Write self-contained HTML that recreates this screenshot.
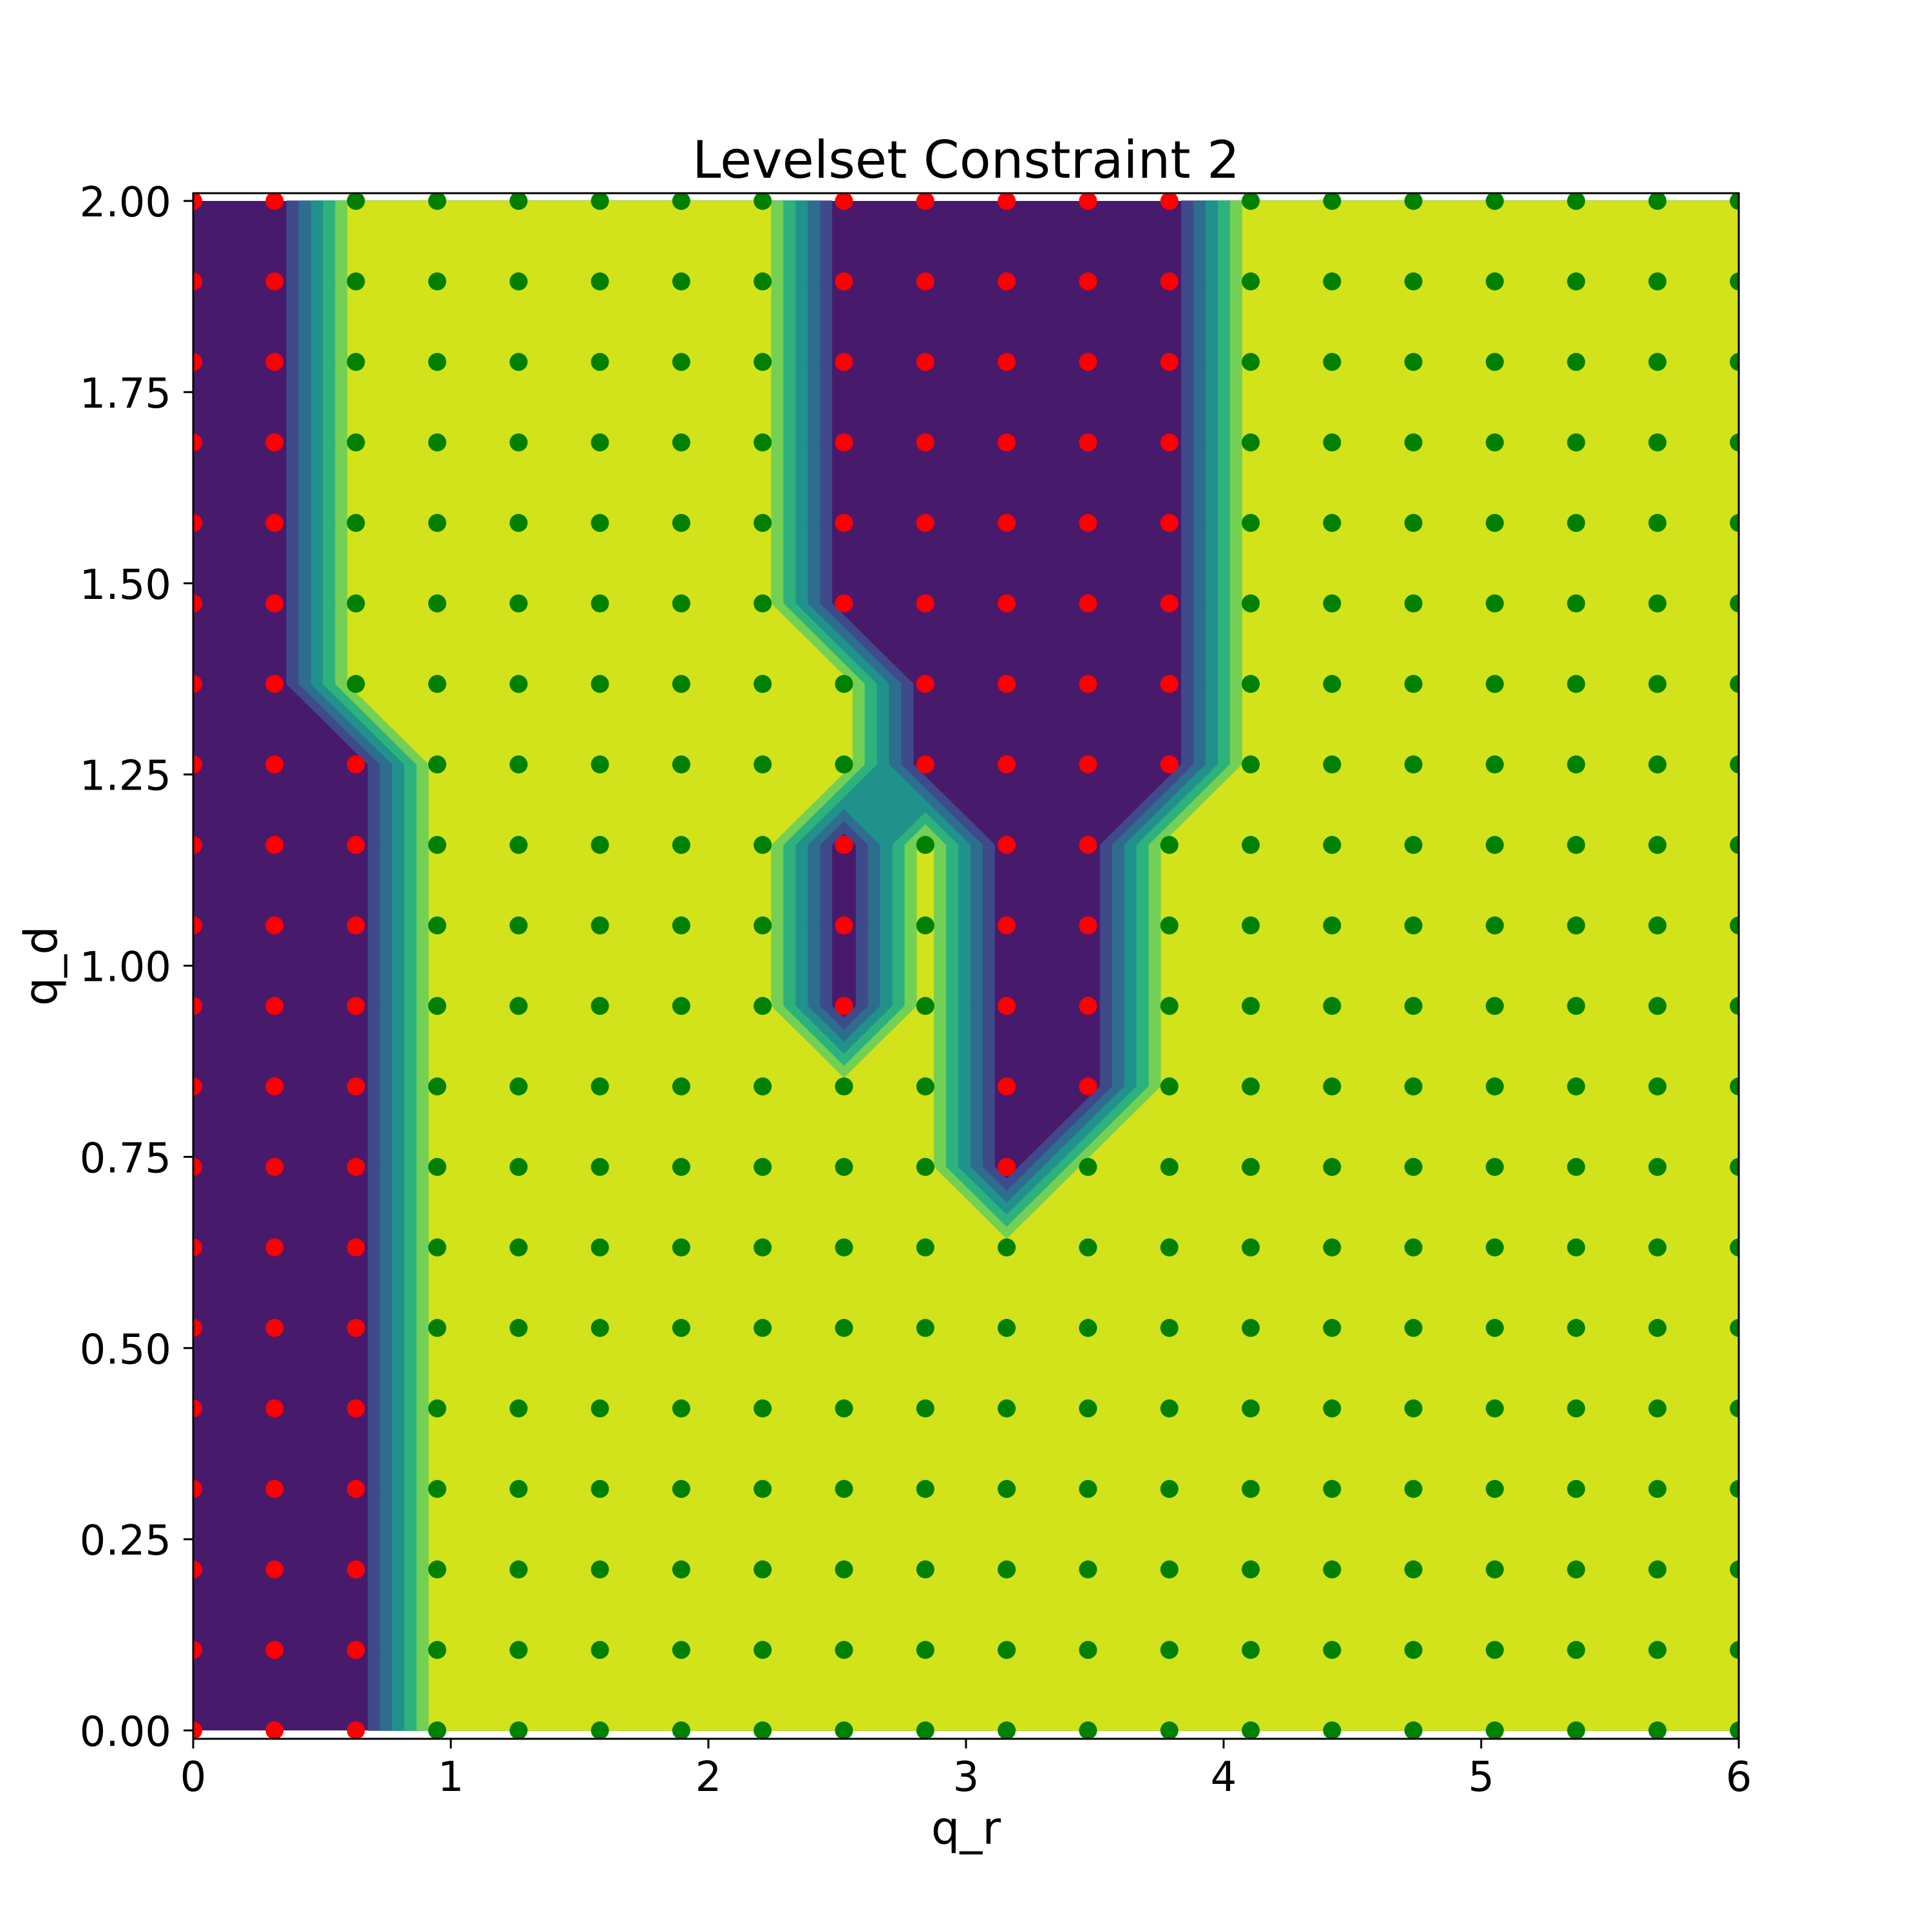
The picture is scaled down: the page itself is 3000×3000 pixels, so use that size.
<!DOCTYPE html>
<html>
<head>
<meta charset="utf-8">
<style>
  html, body { margin:0; padding:0; background:#fff; }
  body { width:3000px; height:3000px; overflow:hidden; }
  svg { display:block; font-family:"DejaVu Sans","Liberation Sans",sans-serif; }
</style>
</head>
<body>
<svg id="chart" width="3000" height="3000" viewBox="0 0 3000 3000" xmlns="http://www.w3.org/2000/svg">
  <rect x="0" y="0" width="3000" height="3000" fill="#ffffff"/>
  <defs>
    <clipPath id="axclip"><rect x="300" y="300" width="2400" height="2400"/></clipPath>
  </defs>
  <text x="1500" y="276" font-size="80" text-anchor="middle" fill="#000">Levelset Constraint 2</text>
  <g id="contours" clip-path="url(#axclip)"></g>
  <g id="points" clip-path="url(#axclip)"></g>
  <g id="axes"></g>
  <text x="1500" y="2863" font-size="70" text-anchor="middle" fill="#000">q_r</text>
  <text x="88" y="1500" font-size="70" text-anchor="middle" fill="#000" transform="rotate(-90 88 1500)">q_d</text>
</svg>
<script>
// ---- data ----
const qrValues = Array.from({length:20}, (_, i) => i * 6 / 19);
const qdValues = Array.from({length:20}, (_, j) => j * 2 / 19);
// feasibility per row (j = 0 bottom ... 19 top), per column i = 0..19; 1 = feasible (green), 0 = infeasible (red)
const feasRows = [
  [0,0,0,1,1,1,1,1,1,1,1,1,1,1,1,1,1,1,1,1],
  [0,0,0,1,1,1,1,1,1,1,1,1,1,1,1,1,1,1,1,1],
  [0,0,0,1,1,1,1,1,1,1,1,1,1,1,1,1,1,1,1,1],
  [0,0,0,1,1,1,1,1,1,1,1,1,1,1,1,1,1,1,1,1],
  [0,0,0,1,1,1,1,1,1,1,1,1,1,1,1,1,1,1,1,1],
  [0,0,0,1,1,1,1,1,1,1,1,1,1,1,1,1,1,1,1,1],
  [0,0,0,1,1,1,1,1,1,1,1,1,1,1,1,1,1,1,1,1],
  [0,0,0,1,1,1,1,1,1,1,0,1,1,1,1,1,1,1,1,1],
  [0,0,0,1,1,1,1,1,1,1,0,0,1,1,1,1,1,1,1,1],
  [0,0,0,1,1,1,1,1,0,1,0,0,1,1,1,1,1,1,1,1],
  [0,0,0,1,1,1,1,1,0,1,0,0,1,1,1,1,1,1,1,1],
  [0,0,0,1,1,1,1,1,0,1,0,0,1,1,1,1,1,1,1,1],
  [0,0,0,1,1,1,1,1,1,0,0,0,0,1,1,1,1,1,1,1],
  [0,0,1,1,1,1,1,1,1,0,0,0,0,1,1,1,1,1,1,1],
  [0,0,1,1,1,1,1,1,0,0,0,0,0,1,1,1,1,1,1,1],
  [0,0,1,1,1,1,1,1,0,0,0,0,0,1,1,1,1,1,1,1],
  [0,0,1,1,1,1,1,1,0,0,0,0,0,1,1,1,1,1,1,1],
  [0,0,1,1,1,1,1,1,0,0,0,0,0,1,1,1,1,1,1,1],
  [0,0,1,1,1,1,1,1,0,0,0,0,0,1,1,1,1,1,1,1],
  [0,0,1,1,1,1,1,1,0,0,0,0,0,1,1,1,1,1,1,1]
];
const levels = [0.15, 0.30, 0.45, 0.60, 0.75, 0.90];
const bandColors = ["#481a6c","#3e4a89","#2e6d8e","#21918c","#2db27d","#73d055","#d2e21b"];
const xTicks = [0,1,2,3,4,5,6];
const xTickLabels = ["0","1","2","3","4","5","6"];
const yTicks = [0,0.25,0.5,0.75,1.0,1.25,1.5,1.75,2.0];
const yTickLabels = ["0.00","0.25","0.50","0.75","1.00","1.25","1.50","1.75","2.00"];

// ---- axes ----
const NS = "http://www.w3.org/2000/svg";
const X0 = 300, X1 = 2700, AX_TOP = 300, AX_BOT = 2700;
const YP0 = 2687, YP2 = 312;
function sx(v){ return X0 + (v - 0) / 6 * (X1 - X0); }
function sy(v){ return YP0 + (v - 0) / 2 * (YP2 - YP0); }
function mk(tag, parent){ const e = document.createElementNS(NS, tag); parent.appendChild(e); return e; }

// ---- contour fill (marching squares per level) ----
const cg = document.getElementById('contours');
const base = mk('rect', cg);


base.setAttribute('x', sx(0)); base.setAttribute('y', sy(2));
base.setAttribute('width', sx(6) - sx(0)); base.setAttribute('height', sy(0) - sy(2));
base.setAttribute('fill', bandColors[0]);

function val(i, j){ return feasRows[j][i]; }
for (let k = 0; k < levels.length; k++) {
  const L = levels[k];
  let d = "";
  for (let j = 0; j < 19; j++) {
    for (let i = 0; i < 19; i++) {
      const c = [[i,j],[i+1,j],[i+1,j+1],[i,j+1]];
      const v = c.map(p => val(p[0], p[1]));
      const hi = v.map(a => a >= L);
      const nHi = hi.filter(Boolean).length;
      if (nHi === 0) continue;
      const pt = (p) => [sx(qrValues[p[0]]), sy(qdValues[p[1]])];
      const cross = (a, b) => {
        const t = (L - v[a]) / (v[b] - v[a]);
        const pa = pt(c[a]), pb = pt(c[b]);
        return [pa[0] + t*(pb[0]-pa[0]), pa[1] + t*(pb[1]-pa[1])];
      };
      const center = (v[0]+v[1]+v[2]+v[3]) / 4;
      const saddle = nHi === 2 && hi[0] === hi[2] && hi[1] === hi[3];
      const polys = [];
      if (saddle && L > center) {
        for (let a = 0; a < 4; a++) {
          if (!hi[a]) continue;
          const prev = (a + 3) % 4, next = (a + 1) % 4;
          polys.push([cross(prev, a), pt(c[a]), cross(a, next)]);
        }
      } else {
        const poly = [];
        for (let a = 0; a < 4; a++) {
          const b = (a + 1) % 4;
          if (hi[a]) poly.push(pt(c[a]));
          if (hi[a] !== hi[b]) poly.push(cross(a, b));
        }
        polys.push(poly);
      }
      for (const poly of polys) {
        d += "M" + poly.map(p => p[0].toFixed(2) + "," + p[1].toFixed(2)).join("L") + "Z";
      }
    }
  }
  const path = mk('path', cg);
  
  
  path.setAttribute('d', d);
  path.setAttribute('fill', bandColors[k + 1]);
  path.setAttribute('stroke', bandColors[k + 1]);
  path.setAttribute('stroke-width', '1.2');
  path.setAttribute('stroke-linejoin', 'round');
}

// ---- sample points ----
const pg = document.getElementById('points');
for (let j = 0; j < 20; j++) {
  for (let i = 0; i < 20; i++) {
    const c = mk('circle', pg);
    
    
    c.setAttribute('cx', sx(qrValues[i]).toFixed(2));
    c.setAttribute('cy', sy(qdValues[j]).toFixed(2));
    c.setAttribute('r', '14');
    c.setAttribute('fill', val(i, j) ? '#008000' : '#ff0000');
  }
}

// ---- axes: spines, ticks, labels ----
const ag = document.getElementById('axes');
const frame = mk('rect', ag);


frame.setAttribute('x', X0); frame.setAttribute('y', AX_TOP);
frame.setAttribute('width', X1 - X0); frame.setAttribute('height', AX_BOT - AX_TOP);
frame.setAttribute('fill', 'none'); frame.setAttribute('stroke', '#000'); frame.setAttribute('stroke-width', '3');

xTicks.forEach((t, idx) => {
  const x = sx(t);
  const ln = mk('line', ag);
  
  
  ln.setAttribute('x1', x); ln.setAttribute('x2', x);
  ln.setAttribute('y1', AX_BOT); ln.setAttribute('y2', AX_BOT + 15);
  ln.setAttribute('stroke', '#000'); ln.setAttribute('stroke-width', '3');
  const tx = mk('text', ag);
  
  
  tx.setAttribute('x', x); tx.setAttribute('y', 2781);
  tx.setAttribute('font-size', '64'); tx.setAttribute('text-anchor', 'middle');
  tx.textContent = xTickLabels[idx];
});
yTicks.forEach((t, idx) => {
  const y = sy(t);
  const ln = mk('line', ag);
  
  
  ln.setAttribute('x1', X0 - 15); ln.setAttribute('x2', X0);
  ln.setAttribute('y1', y); ln.setAttribute('y2', y);
  ln.setAttribute('stroke', '#000'); ln.setAttribute('stroke-width', '3');
  const tx = mk('text', ag);
  
  
  tx.setAttribute('x', 266); tx.setAttribute('y', y + 24);
  tx.setAttribute('font-size', '64'); tx.setAttribute('text-anchor', 'end');
  tx.textContent = yTickLabels[idx];
});
</script>
</body>
</html>
